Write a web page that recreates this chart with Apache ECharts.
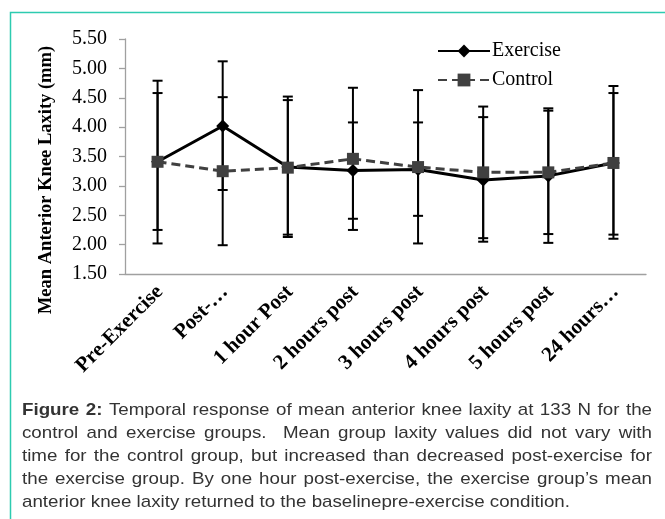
<!DOCTYPE html>
<html><head><meta charset="utf-8">
<script src="https://cdn.jsdelivr.net/npm/echarts@6/dist/echarts.min.js"></script>
<style>html,body{margin:0;padding:0;background:#fff}#c{width:665px;height:519px}</style>
</head><body><div id="c"></div>
<script>
const categories = ['Pre-Exercise','Post-…','1 hour Post','2 hours post','3 hours post','4 hours post','5 hours post','24 hours…'];
const exerciseMean = [3.41, 4.02, 3.32, 3.26, 3.28, 3.10, 3.17, 3.39];
const exerciseHigh = [4.79, 5.12, 4.52, 4.08, 4.08, 4.17, 4.32, 4.70];
const exerciseLow  = [2.02, 2.93, 2.13, 2.44, 2.49, 2.05, 2.03, 2.10];
const controlMean  = [3.41, 3.25, 3.31, 3.46, 3.32, 3.23, 3.23, 3.39];
const controlHigh  = [4.58, 4.51, 4.46, 4.67, 4.63, 4.35, 4.28, 4.58];
const controlLow   = [2.25, 1.99, 2.17, 2.25, 2.02, 2.11, 2.18, 2.17];
const yMin = 1.5, yMax = 5.5, yStep = 0.5;
const yTitle = 'Mean Anterior Knee Laxity (mm)';
const captionLines = [
  'Figure 2: Temporal response of mean anterior knee laxity at 133 N for the',
  'control and exercise groups.  Mean group laxity values did not vary with',
  'time for the control group, but increased than decreased post-exercise for',
  'the exercise group. By one hour post-exercise, the exercise group\u2019s mean',
  'anterior knee laxity returned to the baselinepre-exercise condition.'
];

const SERIF = '"Liberation Serif", "Times New Roman", serif';
const SANS = '"Liberation Sans", Arial, sans-serif';

function errorSeries(name, high, low) {
  return {
    type: 'custom', name: name, silent: true, z: 1,
    encode: { x: 0, y: [1, 2] },
    data: categories.map((c, i) => [i, low[i], high[i]]),
    renderItem(params, api) {
      const x = api.value(0);
      const lo = api.coord([x, api.value(1)]);
      const hi = api.coord([x, api.value(2)]);
      const hw = 5;
      const style = { stroke: '#000', lineWidth: 2, fill: null };
      return { type: 'group', children: [
        { type: 'line', shape: { x1: lo[0], y1: lo[1], x2: hi[0], y2: hi[1] }, style },
        { type: 'line', shape: { x1: lo[0] - hw, y1: lo[1], x2: lo[0] + hw, y2: lo[1] }, style },
        { type: 'line', shape: { x1: hi[0] - hw, y1: hi[1], x2: hi[0] + hw, y2: hi[1] }, style }
      ]};
    }
  };
}

// caption, justified, slightly widened glyphs like the reference
const ctx = document.createElement('canvas').getContext('2d');
function fontStr(bold) { return (bold ? 'bold ' : '') + '17px ' + SANS; }
function measure(t, bold) { ctx.font = fontStr(bold); return ctx.measureText(t).width; }
const capLeft = 22, capRight = 652, capTop = 410, capLH = 23.1;
const lastLineWidth = 548;
const capScale = lastLineWidth / measure(captionLines[captionLines.length - 1], false);
const captionGraphics = [];
captionLines.forEach((line, li) => {
  const tokens = line.split(' ');
  const boldCount = li === 0 ? 2 : 0;
  const widths = tokens.map((t, i) => measure(t, i < boldCount) * capScale);
  const spaceW = measure(' ', false) * capScale;
  const gaps = tokens.length - 1;
  const sumW = widths.reduce((a, b) => a + b, 0);
  const last = li === captionLines.length - 1;
  const gapW = last ? spaceW : (capRight - capLeft - sumW) / gaps;
  let x = capLeft;
  tokens.forEach((t, i) => {
    if (t.length) {
      captionGraphics.push({
        type: 'text', x: x, y: capTop + li * capLH, scaleX: capScale, silent: true,
        style: { text: t, font: fontStr(i < boldCount), fill: '#333', textAlign: 'left', textVerticalAlign: 'middle' }
      });
    }
    x += widths[i] + gapW;
  });
});

const chart = echarts.init(document.getElementById('c'));
chart.setOption({
  animation: false,
  backgroundColor: '#fff',
  grid: { left: 125, right: 19, top: 39, bottom: 245, containLabel: false },
  legend: {
    orient: 'vertical', left: 432, top: 36, itemWidth: 52, itemHeight: 16, itemGap: 9,
    data: ['Exercise', 'Control'],
    textStyle: { fontFamily: SERIF, fontSize: 20, color: '#000', padding: [0, 0, 0, -3] }
  },
  xAxis: {
    type: 'category', data: categories, boundaryGap: true,
    axisLine: { lineStyle: { color: '#a0a0a0', width: 1.3 } },
    axisTick: { length: 5, lineStyle: { color: '#a0a0a0', width: 1.3 } },
    axisLabel: { rotate: 45, interval: 0, margin: 17, padding: [0, -3, 0, 0], fontFamily: SERIF, fontWeight: 'bold', fontSize: 21, color: '#000' },
    splitLine: { show: false }
  },
  yAxis: {
    type: 'value', min: yMin, max: yMax, interval: yStep,
    axisLine: { show: true, lineStyle: { color: '#a0a0a0', width: 1.3 } },
    axisTick: { show: true, length: 6, lineStyle: { color: '#a0a0a0', width: 1.3 } },
    axisLabel: { margin: 18, fontFamily: SERIF, fontSize: 20, color: '#000', formatter: v => v.toFixed(2) },
    splitLine: { show: false }
  },
  graphic: [
    { type: 'polyline', silent: true, shape: { points: [[10.5, 519], [10.5, 12.5], [665, 12.5]] },
      style: { stroke: '#2dcbb0', lineWidth: 1.5, fill: null } },
    { type: 'text', x: 46, y: 180, rotation: Math.PI / 2, silent: true,
      style: { text: yTitle, font: 'bold 18.5px ' + SERIF, fill: '#000', textAlign: 'center', textVerticalAlign: 'middle' } }
  ].concat(captionGraphics),
  series: [
    errorSeries('exErr', exerciseHigh, exerciseLow),
    errorSeries('ctErr', controlHigh, controlLow),
    { name: 'Exercise', type: 'line', data: exerciseMean, z: 3,
      symbol: 'diamond', symbolSize: 13, color: '#000',
      lineStyle: { color: '#000', width: 3 }, itemStyle: { color: '#000' } },
    { name: 'Control', type: 'line', data: controlMean, z: 4,
      symbol: 'rect', symbolSize: 12, color: '#404040',
      lineStyle: { color: '#404040', width: 3, type: [9, 5] }, itemStyle: { color: '#404040' } }
  ]
});
</script>
</body></html>
